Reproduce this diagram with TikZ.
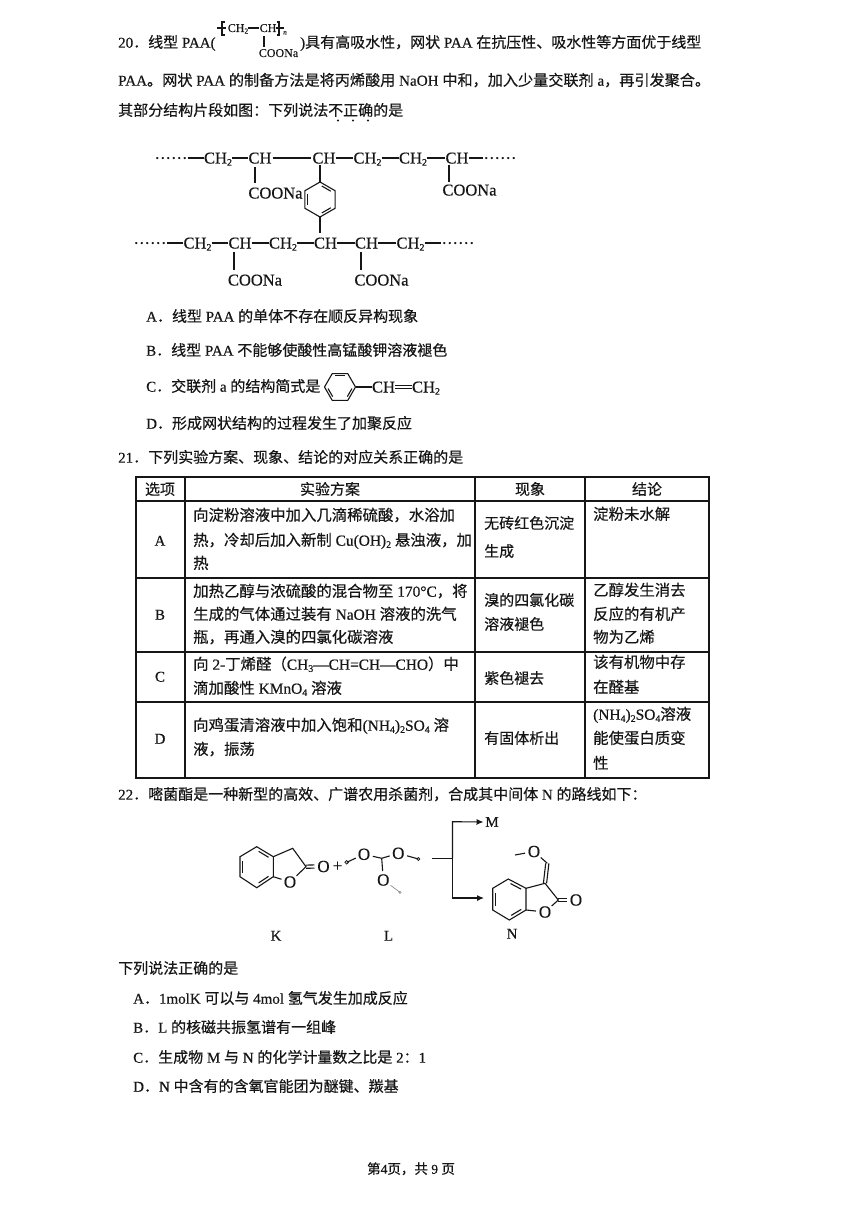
\documentclass[tikz,border=0pt]{standalone}
\usepackage{fontspec}
\usetikzlibrary{calc,arrows.meta}
\setmainfont{Noto Sans CJK SC}[FakeBold=0.35]
\newfontfamily\lat{Liberation Serif}[FakeBold=0.45]
\newcommand\la[1]{{\lat #1}}
\newcommand\dn[1]{\raisebox{-2.2pt}{\fontsize{10}{10}\selectfont\lat #1}}
\newcommand\dnn[1]{\raisebox{-1.6pt}{\fontsize{7.5}{8}\selectfont\lat #1}}
\newcommand\dbl[3]{\draw[bond] ($(#1)!.14!(#2)!.17!(#3)$) -- ($(#2)!.14!(#1)!.17!(#3)$);}
\tikzset{
  txt/.style={anchor=west,inner sep=0pt,text height=13.2pt,text depth=1.8pt,font=\fontsize{15}{15}\selectfont,text=ink},
  wide/.style={txt,font=\fontsize{15.4}{15}\selectfont},
  ctr/.style={txt,anchor=center},
  chem/.style={anchor=center,inner sep=0pt,text height=11pt,text depth=0pt,font=\fontsize{16.5}{16.5}\selectfont\lat,text=ink},
  small/.style={anchor=center,inner sep=0pt,text height=8pt,text depth=0pt,font=\fontsize{12}{12}\selectfont\lat,text=ink},
  atom/.style={anchor=center,circle,inner sep=.3pt,font=\fontsize{17}{17}\selectfont\lat,text=ink},
  bond/.style={line width=1.1pt,draw=ink},
  rule/.style={line width=1.2pt,draw=ink},
  arrowline/.style={line width=1.1pt,draw=ink,-{Latex[length=7pt,width=6pt]}},
}
\definecolor{ink}{HTML}{161616}
\begin{document}
\begin{tikzpicture}[x=1pt,y=-1pt]
\path[use as bounding box,fill=white] (0,0) rectangle (860,1217);
%% question 20
\node[txt] (l1a) at (118,42) {\la{20}．线型\la{ PAA(}};
\node[txt] (l1b) at (300,42) {\la{)}具有高吸水性，网状\la{ PAA }在抗压性、吸水性等方面优于线型};
\node[txt,font=\fontsize{15.13}{15}\selectfont] (l2) at (118,80) {\la{PAA}。网状\la{ PAA }的制备方法是将丙烯酸用\la{ NaOH }中和，加入少量交联剂\la{ a}，再引发聚合。};
\node[txt] (l3) at (118,110) {其部分结构片段如图：下列说法不正确的是};
\foreach \x in {338,353,368} \fill[ink] (\x,120.5) circle (1.1pt);
%% inline PAA formula
\node[small] (fa) at (238,28) {CH\dnn{2}};
\node[small] (fb) at (268,28) {CH};
\node[small] (fc) at (278.5,53) {COONa};
\draw[bond] (fa.east) -- (fb.west);
\draw[bond] (264,36) -- (264,47);
\draw[bond] (224.5,22) -- (222,22) -- (222,35) -- (224.5,35);
\draw[bond] (217,28) -- (226,28);
\draw[bond] (276.5,22) -- (279,22) -- (279,35) -- (276.5,35);
\draw[bond] (276,28) -- (284,28);
\node[anchor=center,inner sep=0pt,font=\fontsize{7}{7}\selectfont\lat,text=ink] (fn) at (285,33) {\textit{n}};
%% network structure, top chain
\node[chem] (td1) at (171,158) {······};
\node[chem] (t1) at (218,158) {CH\dn{2}};
\node[chem] (t2) at (260,158) {CH};
\node[chem] (t3) at (324,158) {CH};
\node[chem] (t4) at (367.5,158) {CH\dn{2}};
\node[chem] (t5) at (413,158) {CH\dn{2}};
\node[chem] (t6) at (457,158) {CH};
\node[chem] (td2) at (500,158) {······};
\draw[bond] (td1.east) -- (t1.west);
\draw[bond] (t1.east) -- (t2.west);
\draw[bond] ([xshift=1pt]t2.east) -- ([xshift=-1pt]t3.west);
\draw[bond] (t3.east) -- (t4.west);
\draw[bond] (t4.east) -- (t5.west);
\draw[bond] (t5.east) -- (t6.west);
\draw[bond] (t6.east) -- (td2.west);
\node[chem] (tc1) at (275.5,193) {COONa};
\node[chem] (tc2) at (469.5,190) {COONa};
\draw[bond] (255,167) -- (255,183);
\draw[bond] (449,165) -- (449,182);
%% bridging ring (y grows downward, so r1 is the bottom vertex and r4 the top one)
\coordinate (rc) at (320,199.5);
\draw[bond] (rc) ++(90:17.5) coordinate (r1) -- ++(-30:17.5) coordinate (r2) -- ++(-90:17.5) coordinate (r3) -- ++(-150:17.5) coordinate (r4) -- ++(150:17.5) coordinate (r5) -- ++(90:17.5) coordinate (r6) -- cycle;
\dbl{r5}{r6}{rc}\dbl{r3}{r4}{rc}\dbl{r1}{r2}{rc}
\coordinate (rt) at (320,165);
\coordinate (rb) at (320,233);
\draw[bond] (rt) -- (r4);
\draw[bond] (r1) -- (rb);
%% bottom chain
\node[chem] (bd1) at (150,243) {······};
\node[chem] (b1) at (197.5,243) {CH\dn{2}};
\node[chem] (b2) at (240,243) {CH};
\node[chem] (b3) at (283,243) {CH\dn{2}};
\node[chem] (b4) at (325.5,243) {CH};
\node[chem] (b5) at (366.5,243) {CH};
\node[chem] (b6) at (410.5,243) {CH\dn{2}};
\node[chem] (bd2) at (458,243) {······};
\draw[bond] (bd1.east) -- (b1.west);
\draw[bond] (b1.east) -- (b2.west);
\draw[bond] (b2.east) -- (b3.west);
\draw[bond] (b3.east) -- (b4.west);
\draw[bond] (b4.east) -- (b5.west);
\draw[bond] (b5.east) -- (b6.west);
\draw[bond] (b6.east) -- (bd2.west);
\node[chem] (bc1) at (255,280) {COONa};
\node[chem] (bc2) at (381.5,280) {COONa};
\draw[bond] (234,252) -- (234,270);
\draw[bond] (361,252) -- (361,270);
%% options
\node[txt] (oa) at (146,316) {\la{A}．线型\la{ PAA }的单体不存在顺反异构现象};
\node[txt] (ob) at (146,350) {\la{B}．线型\la{ PAA }不能够使酸性高锰酸钾溶液褪色};
\node[txt] (oc) at (146,386) {\la{C}．交联剂\la{ a }的结构简式是};
\node[txt] (od) at (146,423) {\la{D}．形成网状结构的过程发生了加聚反应};
\coordinate (sc) at (340,387);
\draw[bond] (sc) ++(0:15.5) coordinate (s1) -- ++(120:15.5) coordinate (s2) -- ++(180:15.5) coordinate (s3) -- ++(240:15.5) coordinate (s4) -- ++(300:15.5) coordinate (s5) -- ++(0:15.5) coordinate (s6) -- cycle;
\dbl{s5}{s6}{sc}\dbl{s3}{s4}{sc}\dbl{s1}{s2}{sc}
\node[chem] (sa) at (383.5,387) {CH};
\node[chem] (sb) at (426,387) {CH\dn{2}};
\draw[bond] (s1) -- (sa.west);
\draw[bond] ([yshift=-1.6pt]sa.east) -- ([yshift=-1.6pt]sb.west);
\draw[bond] ([yshift=1.6pt]sa.east) -- ([yshift=1.6pt]sb.west);
%% question 21 and table
\node[txt] (q21) at (118,457) {\la{21}．下列实验方案、现象、结论的对应关系正确的是};
\draw[rule] (136,477) rectangle (709,778);
\foreach \x in {185,475,585} \draw[rule] (\x,477) -- (\x,778);
\foreach \y in {501,578,652,702} \draw[rule] (136,\y) -- (709,\y);
\node[ctr] (h1) at (160,489) {选项};
\node[ctr] (h2) at (330,489) {实验方案};
\node[ctr] (h3) at (530,489) {现象};
\node[ctr] (h4) at (647,489) {结论};
\node[ctr] (ra) at (160,540) {\la{A}};
\node[ctr] (rb1) at (160,614) {\la{B}};
\node[ctr] (rc1) at (160,676) {\la{C}};
\node[ctr] (rd) at (160,738) {\la{D}};
\node[wide] (a1) at (193,515) {向淀粉溶液中加入几滴稀硫酸，水浴加};
\node[wide] (a2) at (193,540) {热，冷却后加入新制\la{ Cu(OH)\dn{2} }悬浊液，加};
\node[wide] (a3) at (193,563) {热};
\node[wide] (b11) at (193,591) {加热乙醇与浓硫酸的混合物至\la{ 170°C}，将};
\node[wide] (b12) at (193,614) {生成的气体通过装有\la{ NaOH }溶液的洗气};
\node[wide] (b13) at (193,637) {瓶，再通入溴的四氯化碳溶液};
\node[wide] (c11) at (193,664) {向\la{ 2-}丁烯醛（\la{CH\dn{3}—CH=CH—CHO}）中};
\node[wide] (c12) at (193,688) {滴加酸性\la{ KMnO\dn{4} }溶液};
\node[wide] (d11) at (193,725) {向鸡蛋清溶液中加入饱和\la{(NH\dn{4})\dn{2}SO\dn{4} }溶};
\node[wide] (d12) at (193,749) {液，振荡};
\node[txt] (a4) at (484,523) {无砖红色沉淀};
\node[txt] (a5) at (484,551) {生成};
\node[txt] (b21) at (484,600) {溴的四氯化碳};
\node[txt] (b22) at (484,624) {溶液褪色};
\node[txt] (c21) at (484,678) {紫色褪去};
\node[txt] (d21) at (484,738) {有固体析出};
\node[wide] (a6) at (593,514) {淀粉未水解};
\node[wide] (b31) at (593,590) {乙醇发生消去};
\node[wide] (b32) at (593,614) {反应的有机产};
\node[wide] (b33) at (593,637) {物为乙烯};
\node[wide] (c31) at (593,662) {该有机物中存};
\node[wide] (c32) at (593,687) {在醛基};
\node[wide] (d31) at (593,714) {\la{(NH\dn{4})\dn{2}SO\dn{4}}溶液};
\node[wide] (d32) at (593,738) {能使蛋白质变};
\node[wide] (d33) at (593,763) {性};
%% question 22
\node[txt] (q22) at (118,794) {\la{22}．嘧菌酯是一种新型的高效、广谱农用杀菌剂，合成其中间体\la{ N }的路线如下：};
%% K
\coordinate (k1) at (256.7,846.7);
\coordinate (k2) at (240,856.7);
\coordinate (k3) at (240,876.7);
\coordinate (k4) at (256.7,887.7);
\coordinate (k5) at (273.3,876.7);
\coordinate (k6) at (273.3,856.7);
\coordinate (kc) at (256.7,867);
\draw[bond] (k1) -- (k2) -- (k3) -- (k4) -- (k5) -- (k6) -- cycle;
\dbl{k2}{k3}{kc}\dbl{k4}{k5}{kc}\dbl{k6}{k1}{kc}
\coordinate (k7) at (292.7,848.3);
\coordinate (k8) at (306,866.7);
\node[atom] (ko) at (290,882) {O};
\node[atom] (kd) at (323.5,866.5) {O};
\draw[bond] (k6) -- (k7) -- (k8) -- (ko) -- (k5);
\draw[bond] ([yshift=-1.6pt]k8) -- ([yshift=-1.6pt]kd.west);
\draw[bond] ([yshift=1.6pt]k8) -- ([yshift=1.6pt]kd.west);
\node[atom] (plus) at (337.5,866.5) {+};
%% L
\coordinate (lc) at (381.7,858.3);
\node[atom] (lo1) at (364,854.3) {O};
\node[atom] (lo2) at (398.3,853.3) {O};
\node[atom] (lo3) at (383.3,880) {O};
\coordinate (le1) at (346.7,862.3);
\coordinate (le2) at (418.3,859);
\coordinate (le3) at (400,892.3);
\draw[bond] (lc) -- (lo1);
\draw[bond] (lc) -- (lo2);
\draw[bond] (lc) -- (lo3);
\draw[bond] (lo1) -- (le1);
\draw[bond] (lo2) -- (le2);
\draw[line width=.6pt,draw=gray] (lo3) -- (le3);
\draw[line width=.7pt,draw=ink] (le1) circle (1.8pt);
\draw[line width=.7pt,draw=ink] (le2) circle (1.5pt);
\draw[line width=.5pt,draw=gray] (le3) circle (1.2pt);
%% route
\coordinate (ra0) at (431.7,858.3);
\coordinate (ra1) at (452.5,858.3);
\coordinate (ra2) at (452.5,821.7);
\coordinate (ra3) at (452.5,898);
\node[atom,inner sep=0pt,font=\fontsize{15}{15}\selectfont\lat] (mm) at (492,822) {M};
\coordinate (n0) at (484,898);
\draw[line width=1.1pt,draw=ink] (ra0) -- (ra1);
\draw[arrowline] (ra1) -- (ra2) -- (mm.west);
\draw[arrowline] (ra1) -- (ra3) -- (n0);
%% N
\coordinate (n1) at (508.3,879);
\coordinate (n2) at (492.7,888.3);
\coordinate (n3) at (492.7,910);
\coordinate (n4) at (509.3,920);
\coordinate (n5) at (526,910);
\coordinate (n6) at (526,888.3);
\coordinate (nc) at (509.3,899.5);
\draw[bond] (n1) -- (n2) -- (n3) -- (n4) -- (n5) -- (n6) -- cycle;
\dbl{n2}{n3}{nc}\dbl{n4}{n5}{nc}\dbl{n6}{n1}{nc}
\coordinate (n7) at (545,883.3);
\coordinate (n8) at (558.3,900);
\coordinate (n9) at (547.3,863.3);
\coordinate (n10) at (515,855);
\node[atom] (no) at (545,912) {O};
\node[atom] (nd) at (576,900) {O};
\node[atom] (nm) at (534,851.5) {O};
\draw[bond] (n6) -- (n7) -- (n8) -- (no) -- (n5);
\draw[bond] ([yshift=-1.6pt]n8) -- ([yshift=-1.6pt]nd.west);
\draw[bond] ([yshift=1.6pt]n8) -- ([yshift=1.6pt]nd.west);
\draw[bond] ([xshift=-1.6pt]n7) -- ([xshift=-1.6pt]n9);
\draw[bond] ([xshift=1.6pt]n7) -- ([xshift=1.6pt]n9);
\draw[bond] (n9) -- (nm);
\draw[bond] (nm) -- (n10);
\node[ctr] (lk) at (276,935) {\la{K}};
\node[ctr] (ll) at (388.5,935) {\la{L}};
\node[ctr] (ln) at (512,933) {\la{N}};
%% closing text
\node[txt] (q0) at (118,968) {下列说法正确的是};
\node[txt] (e1) at (133,998) {\la{A}．\la{1molK }可以与\la{ 4mol }氢气发生加成反应};
\node[txt] (e2) at (133,1027) {\la{B}．\la{L }的核磁共振氢谱有一组峰};
\node[txt] (e3) at (133,1057) {\la{C}．生成物\la{ M }与\la{ N }的化学计量数之比是\la{ 2}：\la{1}};
\node[txt] (e4) at (133,1086) {\la{D}．\la{N }中含有的含氧官能团为醚键、羰基};
\node[txt,font=\fontsize{13.5}{14}\selectfont] (foot) at (367,1168) {第\la{4}页，共\la{ 9 }页};
\end{tikzpicture}
\end{document}
